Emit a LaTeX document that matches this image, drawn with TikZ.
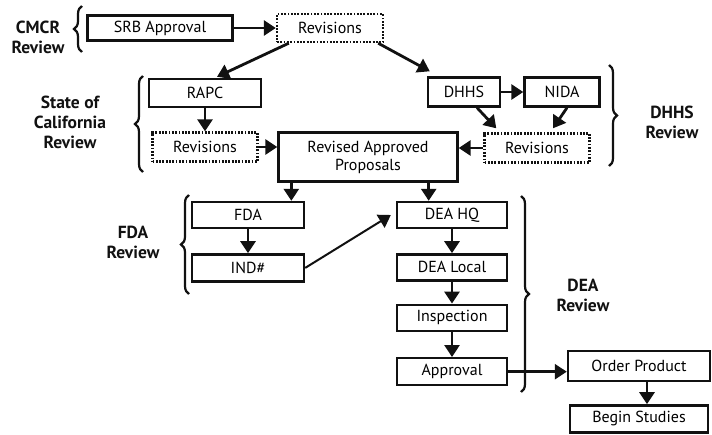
\documentclass[tikz,border=0pt]{standalone}
\usepackage{fontspec}
\setmainfont{PT Sans}
\usetikzlibrary{positioning, arrows.meta, decorations.pathreplacing}
\definecolor{inkDark}{HTML}{111111}

\begin{document}
\begin{tikzpicture}[x=1pt, y=-1pt, font=\fontsize{16}{18}\selectfont,
  stage/.style={draw=inkDark, line width=2.4pt, minimum height=27pt, inner sep=0pt, align=center},
  draftbox/.style={stage, dash pattern=on 1.8pt off 1.5pt},
  flow/.style={-{Triangle[length=12pt,width=15pt]}, line width=2.8pt, draw=inkDark},
  review/.style={font=\fontsize{17.5}{20}\selectfont\bfseries, align=center, text=inkDark},
  bracket/.style={decorate, decoration={brace, amplitude=8pt}, line width=2.2pt, draw=inkDark}]

\useasboundingbox (0,0) rectangle (712,434);

% CMCR review
\node[stage, minimum width=145pt, minimum height=25pt] (srb) at (160,28) {SRB Approval};
\node[draftbox, minimum width=106pt, minimum height=28pt] (revcmcr) at (330,28) {Revisions};
\node[review] (cmcrlbl) at (38,37) {CMCR\\Review};
\draw[bracket] (82,52) -- (82,6);

% state of California review
\node[stage, minimum width=112pt, minimum height=28pt] (rapc) at (205,93) {RAPC};
\node[draftbox, minimum width=105pt, minimum height=29pt] (revstate) at (205,147) {Revisions};
\node[review] (statelbl) at (70,122) {State of\\California\\Review};
\draw[bracket] (143,172) -- (143,76);

\node[stage, minimum width=179pt, minimum height=49pt] (rap) at (368,157) {Revised Approved\\Proposals};

% DHHS review
\node[stage, minimum width=72pt, minimum height=29pt] (dhhs) at (464,92) {DHHS};
\node[stage, minimum width=75pt, minimum height=29pt] (nida) at (562,92) {NIDA};
\node[draftbox, minimum width=105pt, minimum height=29pt] (revdhhs) at (537,148) {Revisions};
\node[review] (dhhslbl) at (672,122) {DHHS\\Review};
\draw[bracket] (609,65) -- (609,166);

% FDA review
\node[stage, minimum width=112pt, minimum height=26pt] (fda) at (248,215) {FDA};
\node[stage, minimum width=112pt, below=24pt of fda] (ind) {IND\#};
\node[review] (fdalbl) at (133,242) {FDA\\Review};
\draw[bracket] (189,294) -- (189,195);

% DEA review
\node[stage, minimum width=110pt, minimum height=26pt] (deahq) at (452,215) {DEA HQ};
\node[stage, minimum width=110pt, minimum height=26pt, below=24pt of deahq] (dealocal) {DEA Local};
\node[stage, minimum width=110pt, minimum height=26pt, below=22pt of dealocal] (insp) {Inspection};
\node[stage, minimum width=110pt, below=25pt of insp] (approval) {Approval};
\node[review] (dealbl) at (583,295) {DEA\\Review};
\draw[bracket] (521,196) -- (521,392);

\node[stage, minimum width=142pt, minimum height=30pt] (order) at (639,366) {Order Product};
\node[stage, minimum width=138pt, below=22pt of order] (begin) {Begin Studies};

% arrows
\draw[flow] (srb) -- (revcmcr);
\draw[flow] ([xshift=13pt]revcmcr.south west) -- ([xshift=12pt,yshift=1pt]rapc.north);
\draw[flow] ([xshift=-6pt]revcmcr.south east) -- ([xshift=3pt,yshift=5pt]dhhs.north west);
\draw[flow] (rapc) -- (revstate);
\draw[flow] (revstate.east) -- (revstate.east -| rap.west);
\draw[flow] (revdhhs.west) -- (revdhhs.west -| rap.east);
\draw[flow] (dhhs) -- (nida);
\draw[flow] ([xshift=13pt]dhhs.south) -- ([xshift=13pt,yshift=4pt]revdhhs.north west);
\draw[flow] ([xshift=5pt]nida.south) -- ([xshift=16pt,yshift=4pt]revdhhs.north);
\draw[flow] ([xshift=14pt]rap.south west) -- ([xshift=14pt]rap.south west |- fda.north);
\draw[flow] ([xshift=-30pt]rap.south east) -- ([xshift=-30pt]rap.south east |- deahq.north);
\draw[flow] (fda) -- (ind);
\draw[flow, line width=2pt] (ind.east) -- ([xshift=-5pt]deahq.west);
\draw[flow] (deahq) -- (dealocal);
\draw[flow] (dealocal) -- (insp);
\draw[flow] (insp) -- (approval);
\draw[flow] (approval.east) -- (approval.east -| order.west);
\draw[flow] ([xshift=8pt]order.south) -- ([xshift=8pt]begin.north);
\end{tikzpicture}
\end{document}
